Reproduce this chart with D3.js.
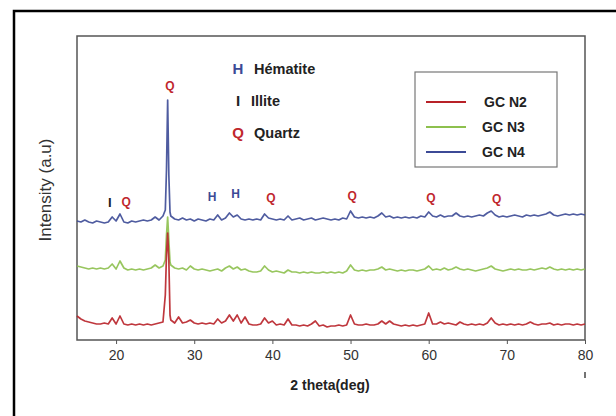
<!DOCTYPE html>
<html>
<head>
<meta charset="utf-8">
<script src="https://cdn.jsdelivr.net/npm/d3@7"></script>
<style>
  body { margin: 0; background: #fff; }
  svg { display: block; font-family: "Liberation Sans", Arial, sans-serif; }
</style>
</head>
<body>
<script>
// XRD patterns, 2 theta in degrees, intensity in arbitrary units (curves offset as in the figure)
const angles = [
  15, 15.5, 16, 16.5, 17, 17.5, 18, 18.5, 19, 19.5,
  20, 20.5, 21, 21.5, 22, 22.5, 23, 23.5, 24, 24.5,
  25, 25.5, 26, 26.3, 26.45, 26.6, 26.75, 26.9, 27, 27.5,
  28, 28.5, 29, 29.5, 30, 30.5, 31, 31.5, 32, 32.5,
  33, 33.5, 34, 34.5, 35, 35.5, 36, 36.5, 37, 37.5,
  38, 38.5, 39, 39.5, 40, 40.5, 41, 41.5, 42, 42.5,
  43, 43.5, 44, 44.5, 45, 45.5, 46, 46.5, 47, 47.5,
  48, 48.5, 49, 49.5, 50, 50.5, 51, 51.5, 52, 52.5,
  53, 53.5, 54, 54.5, 55, 55.5, 56, 56.5, 57, 57.5,
  58, 58.5, 59, 59.5, 60, 60.5, 61, 61.5, 62, 62.5,
  63, 63.5, 64, 64.5, 65, 65.5, 66, 66.5, 67, 67.5,
  68, 68.5, 69, 69.5, 70, 70.5, 71, 71.5, 72, 72.5,
  73, 73.5, 74, 74.5, 75, 75.5, 76, 76.5, 77, 77.5,
  78, 78.5, 79, 79.5, 80
];

const gcN4 = [
  119, 118, 120, 118, 117, 119, 118, 117, 118, 123,
  119, 126, 118, 117, 119, 118, 119, 120, 119, 120,
  123, 120, 124, 130, 170, 240, 165, 128, 124, 121,
  120, 122, 120, 121, 119, 121, 120, 119, 121, 120,
  125, 120, 122, 127, 123, 125, 121, 120, 121, 120,
  121, 120, 126, 122, 121, 120, 121, 120, 124, 120,
  121, 122, 120, 121, 122, 120, 121, 122, 121, 120,
  121, 120, 122, 121, 129, 123, 122, 123, 122, 123,
  122, 124, 127, 123, 124, 122, 123, 122, 123, 122,
  123, 122, 124, 123, 128, 124, 123, 125, 123, 124,
  124, 127, 124, 123, 124, 123, 124, 125, 124, 127,
  129, 125, 123, 124, 123, 124, 125, 124, 123, 125,
  124, 125, 124, 125, 126, 128, 125, 124, 125, 126,
  125, 126, 125, 126, 125
];

const gcN3 = [
  74, 73, 72, 71, 72, 71, 72, 71, 72, 76,
  71, 79, 72, 70, 71, 70, 71, 70, 71, 72,
  75, 72, 74, 80, 105, 123, 100, 78, 75, 72,
  71, 72, 70, 74, 71, 70, 71, 70, 69, 70,
  71, 69, 72, 74, 71, 73, 70, 71, 69, 68,
  68, 69, 74, 70, 68, 69, 68, 67, 70, 68,
  68, 67, 68, 67, 68, 67, 67, 68, 67, 68,
  67, 68, 67, 69, 75, 70, 69, 70, 69, 70,
  70, 71, 73, 70, 71, 70, 69, 70, 69, 70,
  70, 69, 70, 71, 74, 70, 71, 70, 72, 70,
  71, 73, 71, 70, 71, 70, 69, 70, 71, 72,
  74, 71, 70, 69, 70, 71, 70, 71, 70, 70,
  71, 70, 71, 72, 71, 73, 71, 70, 71, 70,
  71, 70, 71, 70, 71
];

const gcN2 = [
  24, 21, 19, 18, 17, 16, 16, 17, 16, 22,
  16, 24, 16, 15, 16, 15, 16, 15, 16, 15,
  16, 17, 18, 45, 85, 107, 80, 25, 20, 17,
  23, 17, 18, 20, 17, 16, 17, 16, 17, 16,
  21, 17, 19, 25, 19, 25, 17, 23, 16, 15,
  15, 16, 22, 17, 19, 15, 16, 15, 21, 15,
  15, 14, 15, 14, 16, 19, 14, 15, 13, 14,
  14, 15, 14, 15, 25, 16, 15, 15, 16, 15,
  15, 16, 19, 16, 19, 16, 15, 14, 15, 14,
  15, 14, 15, 16, 27, 16, 16, 18, 16, 17,
  16, 15, 18, 16, 15, 16, 15, 16, 15, 17,
  22, 17, 15, 16, 15, 16, 15, 16, 15, 16,
  18, 16, 15, 16, 16, 17, 15, 16, 15, 16,
  16, 15, 16, 15, 16
];

const seriesNames = ['GC N2', 'GC N3', 'GC N4'];
const xTicks = [20, 30, 40, 50, 60, 70, 80];

// phase labels: [angle, intensity, letter]
const phaseMarks = [
  [19.2, 133, 'I'], [21.3, 134, 'Q'], [26.9, 250, 'Q'],
  [32.3, 139, 'H'], [35.3, 142, 'H'], [39.8, 138, 'Q'],
  [50.2, 140, 'Q'], [60.3, 138, 'Q'], [68.7, 137, 'Q']
];
const phaseLegend = [['H', 'Hématite'], ['I', 'Illite'], ['Q', 'Quartz']];

const colors = { 'GC N2': '#b82128', 'GC N3': '#8dc04e', 'GC N4': '#3c4a96' };
const letterColors = { H: '#3c4a96', I: '#222', Q: '#c0272d' };

const W = 616, H = 416;
const margin = { left: 77, right: 31, top: 36, bottom: 76 };

const svg = d3.select('body').append('svg')
  .attr('width', W)
  .attr('height', H);

// outer black frame (runs past the right and bottom edges)
svg.append('rect')
  .attr('x', 14).attr('y', 11)
  .attr('width', 620).attr('height', 420)
  .attr('fill', 'none')
  .attr('stroke', '#000')
  .attr('stroke-width', 2.5);

const x = d3.scaleLinear().domain([15, 80]).range([margin.left, W - margin.right]);
const y = d3.scaleLinear().domain([0, 304]).range([H - margin.bottom, margin.top]);

// plot frame
svg.append('rect')
  .attr('x', x(15)).attr('y', y(304))
  .attr('width', x(80) - x(15)).attr('height', y(0) - y(304))
  .attr('fill', 'none')
  .attr('stroke', '#555')
  .attr('stroke-width', 1.5);

const xAxis = svg.append('g')
  .attr('transform', `translate(0,${y(0)})`)
  .call(d3.axisBottom(x).tickValues(xTicks).tickSize(4).tickPadding(6));
xAxis.select('.domain').remove();
xAxis.selectAll('line').attr('stroke', '#555');
xAxis.selectAll('text')
  .attr('font-size', 14)
  .attr('fill', '#333')
  .attr('font-family', '"Liberation Sans", Arial, sans-serif');

// stray mark under 80
svg.append('line')
  .attr('x1', x(80)).attr('x2', x(80))
  .attr('y1', 372).attr('y2', 378)
  .attr('stroke', '#444').attr('stroke-width', 1.5);

svg.append('text')
  .attr('x', 330).attr('y', 390)
  .attr('text-anchor', 'middle')
  .attr('font-size', 14)
  .attr('font-weight', 'bold')
  .attr('fill', '#222')
  .text('2 theta(deg)');

svg.append('text')
  .attr('transform', 'translate(51,190) rotate(-90)')
  .attr('text-anchor', 'middle')
  .attr('font-size', 17)
  .attr('fill', '#333')
  .text('Intensity (a.u)');

// curves
const line = d3.line()
  .x((d, i) => x(angles[i]))
  .y(d => y(d));

[['GC N4', gcN4], ['GC N3', gcN3], ['GC N2', gcN2]].forEach(([name, vals]) => {
  svg.append('path')
    .datum(vals)
    .attr('fill', 'none')
    .attr('stroke', colors[name])
    .attr('stroke-width', 1.7)
    .attr('stroke-linejoin', 'round')
    .attr('opacity', 0.9)
    .attr('d', line);
});

// phase letters over peaks
svg.selectAll('.mark')
  .data(phaseMarks)
  .enter().append('text')
  .attr('x', d => x(d[0]))
  .attr('y', d => y(d[1]))
  .attr('text-anchor', 'middle')
  .attr('font-size', d => d[2] === 'I' ? 13 : 12)
  .attr('font-weight', 'bold')
  .attr('fill', d => letterColors[d[2]])
  .text(d => d[2]);

// phase key
const key = svg.append('g');
phaseLegend.forEach((p, i) => {
  const yy = 74 + i * 32;
  key.append('text')
    .attr('x', 238).attr('y', yy)
    .attr('text-anchor', 'middle')
    .attr('font-size', 15)
    .attr('font-weight', 'bold')
    .attr('fill', letterColors[p[0]])
    .text(p[0]);
  key.append('text')
    .attr('x', p[0] === 'I' ? 251 : 254).attr('y', yy)
    .attr('font-size', 14.5)
    .attr('font-weight', 'bold')
    .attr('fill', '#222')
    .text(p[1]);
});

// series legend
const legend = svg.append('g');
legend.append('rect')
  .attr('x', 415).attr('y', 72)
  .attr('width', 142).attr('height', 95)
  .attr('fill', '#fff')
  .attr('stroke', '#777')
  .attr('stroke-width', 1.2);
seriesNames.forEach((name, i) => {
  const yy = 102 + i * 25;
  legend.append('line')
    .attr('x1', 426).attr('x2', 466)
    .attr('y1', yy).attr('y2', yy)
    .attr('stroke', colors[name])
    .attr('stroke-width', 1.8);
  legend.append('text')
    .attr('x', i === 0 ? 484 : 482).attr('y', yy + 5)
    .attr('font-size', 14)
    .attr('font-weight', 'bold')
    .attr('fill', '#222')
    .text(name);
});
</script>
</body>
</html>
